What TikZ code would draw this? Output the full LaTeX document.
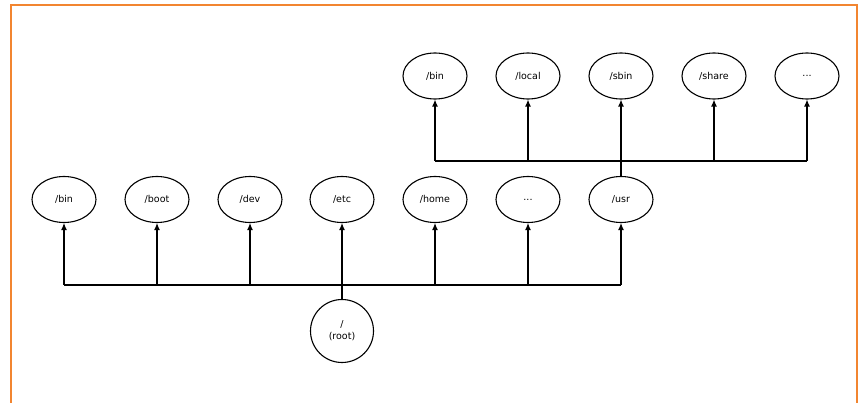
\documentclass[tikz,border=0pt]{standalone}
\usepackage{fontspec}
\setmainfont{DejaVu Sans}
\usetikzlibrary{shapes.geometric,arrows.meta}
\definecolor{frameorange}{RGB}{242,133,48}
\begin{document}
\begin{tikzpicture}[x=1pt,y=-1pt,
  dirnode/.style={draw,ellipse,line width=1.1pt,minimum width=64pt,minimum height=46pt,inner sep=0pt,font=\fontsize{9.5}{12}\selectfont},
  rootnode/.style={draw,circle,line width=1.1pt,minimum size=63pt,inner sep=0pt,align=center,font=\fontsize{9.5}{12}\selectfont},
  link/.style={line width=1.1pt},
  arr/.style={line width=1.1pt,-{Latex[length=7pt,width=6pt]}}]
\useasboundingbox (0,0) rectangle (862,403);
\draw[frameorange,line width=1.2pt] (11,403) -- (11,5) -- (857,5) -- (857,403);
% lower row
\node[dirnode] (bin) at (64,199.5) {/bin};
\node[dirnode] (boot) at (157,199.5) {/boot};
\node[dirnode] (dev) at (250,199.5) {/dev};
\node[dirnode] (etc) at (342,199.5) {/etc};
\node[dirnode] (home) at (435,199.5) {/home};
\node[dirnode] (dots) at (528,199.5) {...};
\node[dirnode] (usr) at (621,199.5) {/usr};
\node[rootnode] (root) at (342,331) {/\\(root)};
% upper row
\node[dirnode] (ubin) at (435,76) {/bin};
\node[dirnode] (ulocal) at (528,76) {/local};
\node[dirnode] (usbin) at (621,76) {/sbin};
\node[dirnode] (ushare) at (714,76) {/share};
\node[dirnode] (udots) at (807,76) {...};
\coordinate (busA) at (342,285);
\coordinate (busB) at (621,161);
% lower bus
\draw[link] (root.north) -- (root |- busA);
\draw[link] (bin |- busA) -- (usr |- busA);
\foreach \n in {bin,boot,dev,etc,home,dots,usr}
  \draw[arr] (\n |- busA) -- (\n.south);
% upper bus
\draw[link] (usr.north) -- (usr |- busB);
\draw[link] (ubin |- busB) -- (udots |- busB);
\foreach \n in {ubin,ulocal,usbin,ushare,udots}
  \draw[arr] (\n |- busB) -- (\n.south);
\end{tikzpicture}
\end{document}
